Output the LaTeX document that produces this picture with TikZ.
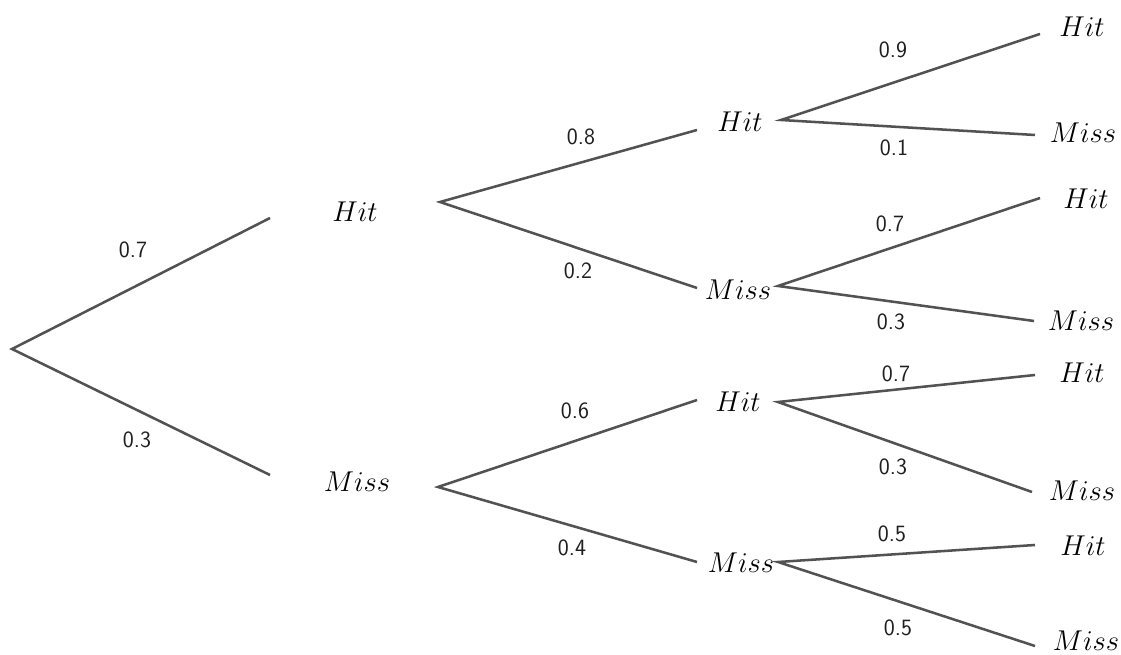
\RequirePackage{fix-cm}
\documentclass[tikz,border=0pt]{standalone}
\usepackage{fontspec}
\begin{document}
\begin{tikzpicture}[x=0.75pt,y=-0.75pt,
  branch/.style={draw=black!68,line width=1.9pt},
  outcome/.style={inner sep=0pt,font=\fontsize{21.5}{26}\selectfont},
  prob/.style={inner sep=0pt,font=\sffamily\fontsize{17.5}{21}\selectfont,text=black!88}]
\useasboundingbox (0,0) rectangle (1121,655);

% root
\coordinate (root) at (12,349);

% first stage
\node[outcome] (H) at (355,212) {$Hit$};
\node[outcome] (M) at (357,482) {$Miss$};
\coordinate (H-in) at (270,218);  \coordinate (H-out) at (440,202);
\coordinate (M-in) at (270,475);  \coordinate (M-out) at (438,487);

% second stage
\node[outcome] (HH) at (740,122) {$Hit$};
\node[outcome] (HM) at (738,290) {$Miss$};
\node[outcome] (MH) at (738,402) {$Hit$};
\node[outcome] (MM) at (741,563) {$Miss$};
\coordinate (HH-in) at (697,130);  \coordinate (HH-out) at (781,120);
\coordinate (HM-in) at (697,288);  \coordinate (HM-out) at (778,286);
\coordinate (MH-in) at (697,400);  \coordinate (MH-out) at (778,402);
\coordinate (MM-in) at (697,562);  \coordinate (MM-out) at (778,562);

% third stage
\node[outcome] (HHH) at (1082,27)  {$Hit$};
\node[outcome] (HHM) at (1083,133) {$Miss$};
\node[outcome] (HMH) at (1086,199) {$Hit$};
\node[outcome] (HMM) at (1081,321) {$Miss$};
\node[outcome] (MHH) at (1082,373) {$Hit$};
\node[outcome] (MHM) at (1082,491) {$Miss$};
\node[outcome] (MMH) at (1083,546) {$Hit$};
\node[outcome] (MMM) at (1086,641) {$Miss$};
\coordinate (HHH-in) at (1040,34);
\coordinate (HHM-in) at (1035,135);
\coordinate (HMH-in) at (1040,198);
\coordinate (HMM-in) at (1034,321);
\coordinate (MHH-in) at (1035,375);
\coordinate (MHM-in) at (1032,492);
\coordinate (MMH-in) at (1035,545);
\coordinate (MMM-in) at (1035,646);

% branches
\draw[branch] (H-in) -- (root) -- (M-in);
\draw[branch] (HH-in) -- (H-out) -- (HM-in);
\draw[branch] (MH-in) -- (M-out) -- (MM-in);
\draw[branch] (HHH-in) -- (HH-out) -- (HHM-in);
\draw[branch] (HMH-in) -- (HM-out) -- (HMM-in);
\draw[branch] (MHH-in) -- (MH-out) -- (MHM-in);
\draw[branch] (MMH-in) -- (MM-out) -- (MMM-in);

% probabilities
\node[prob] (p1) at (133,250) {0.7};
\node[prob] (p2) at (137,440) {0.3};
\node[prob] (p3) at (581,137) {0.8};
\node[prob] (p4) at (578,271) {0.2};
\node[prob] (p5) at (575,411) {0.6};
\node[prob] (p6) at (572,548) {0.4};
\node[prob] (p7) at (893,50)  {0.9};
\node[prob] (p8) at (894,148) {0.1};
\node[prob] (p9) at (890,224) {0.7};
\node[prob] (p10) at (891,322) {0.3};
\node[prob] (p11) at (896,374) {0.7};
\node[prob] (p12) at (893,467) {0.3};
\node[prob] (p13) at (892,534) {0.5};
\node[prob] (p14) at (898,628) {0.5};
\end{tikzpicture}
\end{document}
